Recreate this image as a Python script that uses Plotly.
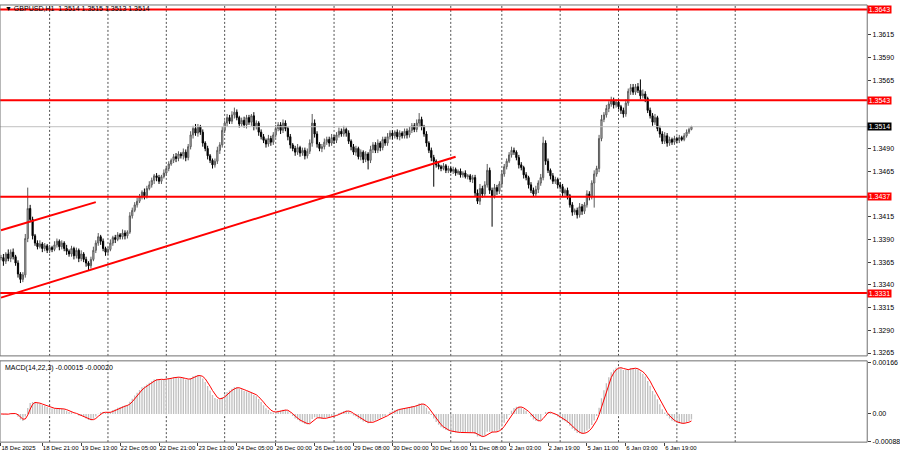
import numpy as np
import pandas as pd
import plotly.graph_objects as go

# broker-time trading sessions on screen: (day, first hour, last hour)
sessions = [
    ("2025-12-18", 4, 23), ("2025-12-19", 0, 23), ("2025-12-22", 0, 23),
    ("2025-12-23", 0, 23), ("2025-12-24", 0, 20), ("2025-12-26", 0, 23),
    ("2025-12-29", 0, 23), ("2025-12-30", 0, 23), ("2025-12-31", 0, 20),
    ("2026-01-02", 0, 23), ("2026-01-05", 0, 23), ("2026-01-06", 0, 23),
    ("2026-01-07", 0, 6),
]

first_open = 1.3370
closes = [
    1.3370, 1.3366, 1.3374, 1.3369, 1.3376, 1.3371, 1.3364, 1.3352, 1.3346, 1.3351,
    1.3391, 1.3424, 1.3412, 1.3394, 1.3386, 1.3382, 1.3385, 1.3380, 1.3383, 1.3378,
    1.3381, 1.3379, 1.3384, 1.3388, 1.3382, 1.3386, 1.3380, 1.3377, 1.3374, 1.3380,
    1.3372, 1.3378, 1.3369, 1.3374, 1.3368, 1.3364, 1.3361, 1.3368, 1.3378, 1.3386,
    1.3393, 1.3388, 1.3380, 1.3376, 1.3379, 1.3386, 1.3392, 1.3390, 1.3395, 1.3393,
    1.3397, 1.3394, 1.3398, 1.3416, 1.3422, 1.3428, 1.3432, 1.3437, 1.3442, 1.3438,
    1.3446, 1.3450, 1.3455, 1.3460, 1.3458, 1.3454, 1.3459, 1.3463, 1.3468, 1.3473,
    1.3477, 1.3481, 1.3479, 1.3484, 1.3482, 1.3486, 1.3480, 1.3492, 1.3505, 1.3512,
    1.3507, 1.3514, 1.3508, 1.3496, 1.3490, 1.3482, 1.3477, 1.3472, 1.3476, 1.3488,
    1.3494, 1.3510, 1.3518, 1.3524, 1.3520, 1.3527, 1.3530, 1.3524, 1.3517, 1.3521,
    1.3516, 1.3524, 1.3519, 1.3526, 1.3514, 1.3518, 1.3508, 1.3503, 1.3499, 1.3495,
    1.3501, 1.3497, 1.3505, 1.3512, 1.3516, 1.3510, 1.3518, 1.3512, 1.3503, 1.3494,
    1.3490, 1.3486, 1.3491, 1.3485, 1.3488, 1.3482, 1.3487, 1.3496, 1.3518, 1.3506,
    1.3495, 1.3490, 1.3492, 1.3497, 1.3500, 1.3496, 1.3502, 1.3499, 1.3505, 1.3509,
    1.3506, 1.3511, 1.3507, 1.3498, 1.3492, 1.3486, 1.3490, 1.3481, 1.3486, 1.3478,
    1.3484, 1.3477, 1.3489, 1.3494, 1.3488, 1.3496, 1.3491, 1.3500, 1.3496, 1.3503,
    1.3507, 1.3504, 1.3508, 1.3503, 1.3507, 1.3504, 1.3509, 1.3505, 1.3510, 1.3515,
    1.3511, 1.3518, 1.3522, 1.3514, 1.3506, 1.3496, 1.3488, 1.3480, 1.3476, 1.3472,
    1.3470, 1.3468, 1.3471, 1.3466, 1.3468, 1.3465, 1.3467, 1.3463, 1.3465, 1.3461,
    1.3463, 1.3459, 1.3460, 1.3456, 1.3458, 1.3441, 1.3432, 1.3446, 1.3440, 1.3450,
    1.3466, 1.3444, 1.3438, 1.3447, 1.3443, 1.3451, 1.3462, 1.3470, 1.3476, 1.3483,
    1.3488, 1.3486, 1.3480, 1.3472, 1.3469, 1.3461, 1.3458, 1.3450, 1.3444, 1.3440,
    1.3445, 1.3452, 1.3458, 1.3496, 1.3476, 1.3466, 1.3460, 1.3454, 1.3456, 1.3450,
    1.3448, 1.3441, 1.3444, 1.3438, 1.3428, 1.3420, 1.3422, 1.3417, 1.3426, 1.3421,
    1.3428, 1.3440, 1.3437, 1.3452, 1.3462, 1.3468, 1.3501, 1.3522, 1.3527, 1.3534,
    1.3539, 1.3543, 1.3538, 1.3541, 1.3536, 1.3532, 1.3528, 1.3540, 1.3553, 1.3557,
    1.3552, 1.3558, 1.3554, 1.3548, 1.3550, 1.3545, 1.3532, 1.3526, 1.3519, 1.3524,
    1.3512, 1.3506, 1.3498, 1.3504, 1.3496, 1.3500, 1.3497, 1.3501, 1.3499, 1.3502,
    1.3500, 1.3504, 1.3508, 1.3511, 1.3514,
]

# upper / lower shadow lengths in pips
wick_up = [
    3, 4, 2, 5, 3, 4, 2, 3, 2, 3, 5, 23, 4, 3, 2, 3, 4, 2, 3, 2,
    3, 2, 4, 3, 2, 3, 2, 4, 2, 3, 2, 3, 2, 4, 2, 3, 2, 3, 4, 3,
    4, 2, 3, 2, 3, 4, 2, 3, 3, 2, 4, 3, 2, 4, 3, 3, 4, 3, 2, 4,
    3, 4, 3, 2, 3, 3, 2, 4, 3, 3, 2, 3, 4, 3, 2, 4, 3, 3, 4, 3,
    5, 3, 2, 3, 2, 3, 2, 2, 3, 4, 3, 4, 3, 4, 3, 4, 5, 3, 2, 3,
    4, 3, 3, 2, 4, 3, 2, 3, 3, 2, 4, 3, 3, 4, 3, 3, 4, 3, 2, 3,
    2, 3, 4, 2, 3, 3, 3, 4, 10, 4, 3, 2, 3, 4, 3, 3, 4, 3, 3, 4,
    3, 4, 2, 3, 2, 3, 3, 2, 3, 2, 3, 2, 4, 3, 3, 4, 2, 3, 3, 4,
    3, 3, 2, 3, 3, 2, 3, 3, 4, 3, 3, 4, 7, 3, 2, 3, 2, 3, 3, 2,
    3, 2, 3, 2, 3, 2, 3, 2, 2, 3, 2, 3, 2, 2, 3, 3, 4, 5, 3, 4,
    7, 3, 3, 4, 3, 3, 4, 3, 3, 3, 4, 3, 2, 3, 3, 2, 3, 2, 3, 3,
    4, 3, 4, 7, 3, 3, 2, 3, 3, 2, 3, 3, 2, 3, 2, 3, 2, 3, 4, 3,
    3, 4, 3, 3, 4, 3, 4, 5, 3, 4, 3, 4, 3, 3, 3, 2, 3, 4, 3, 4,
    4, 3, 4, 12, 5, 3, 2, 3, 3, 4, 2, 3, 3, 4, 3, 3, 2, 3, 2, 3,
    2, 3, 3, 2, 1,
]
wick_dn = [
    3, 5, 3, 3, 4, 3, 3, 4, 4, 3, 3, 4, 3, 4, 3, 3, 2, 4, 3, 3,
    3, 3, 2, 3, 4, 3, 3, 4, 3, 3, 4, 3, 4, 3, 3, 4, 5, 3, 2, 3,
    3, 4, 3, 4, 3, 2, 3, 4, 2, 3, 3, 4, 3, 2, 3, 2, 3, 2, 3, 4,
    3, 2, 3, 4, 4, 3, 3, 2, 3, 3, 2, 3, 4, 3, 3, 4, 4, 3, 3, 4,
    3, 4, 3, 4, 3, 4, 3, 4, 3, 3, 4, 3, 3, 4, 3, 3, 4, 3, 4, 3,
    3, 4, 3, 4, 4, 3, 4, 3, 3, 4, 3, 4, 3, 3, 3, 4, 3, 3, 4, 4,
    3, 4, 3, 4, 3, 4, 3, 3, 4, 4, 4, 3, 4, 3, 3, 4, 3, 4, 3, 3,
    3, 3, 4, 3, 4, 3, 4, 3, 4, 4, 3, 10, 3, 4, 3, 3, 4, 3, 3, 3,
    3, 4, 3, 3, 4, 3, 3, 4, 3, 3, 3, 3, 4, 4, 3, 4, 3, 4, 28, 3,
    3, 3, 2, 3, 3, 2, 3, 3, 2, 3, 3, 2, 3, 3, 4, 4, 3, 4, 4, 3,
    3, 4, 34, 3, 4, 3, 3, 3, 3, 2, 3, 3, 3, 4, 3, 4, 3, 4, 3, 3,
    3, 4, 3, 3, 4, 3, 4, 3, 3, 4, 3, 4, 3, 4, 3, 4, 3, 4, 3, 4,
    3, 3, 4, 3, 27, 3, 4, 3, 3, 3, 4, 3, 4, 3, 3, 4, 4, 3, 3, 4,
    3, 3, 3, 4, 3, 4, 3, 3, 4, 3, 3, 4, 3, 3, 4, 3, 3, 3, 3, 3,
    2, 2, 2, 2, 1,
]

levels = [1.3643, 1.3543, 1.3437, 1.3331]
bid = 1.3514
# scale ticks that are not hidden behind the level / bid boxes
price_ticks = [1.3265, 1.3290, 1.3315, 1.3340, 1.3365, 1.3390, 1.3415,
               1.3465, 1.3490, 1.3565, 1.3590, 1.3615]
macd_ticks = [0.00166, 0.0, -0.00088]
macd_tick_text = ["0.00166", "0.00", "-0.00088"]

x_labels = ["18 Dec 2025", "18 Dec 21:00", "19 Dec 13:00", "22 Dec 05:00", "22 Dec 21:00",
            "23 Dec 13:00", "24 Dec 05:00", "26 Dec 00:00", "26 Dec 16:00", "29 Dec 08:00",
            "30 Dec 00:00", "30 Dec 16:00", "31 Dec 08:00", "2 Jan 03:00", "2 Jan 19:00",
            "5 Jan 11:00", "6 Jan 03:00", "6 Jan 19:00"]

# trend lines drawn on the chart: anchor times and prices
trend_t0 = ["2025-12-18 04:00", "2025-12-18 04:00"]
trend_p0 = [1.3400, 1.3326]
trend_t1 = ["2025-12-19 19:00", "2025-12-31 02:00"]
trend_p1 = [1.3431, 1.3481]

title_text = "▼ GBPUSD,H1  1.3514 1.3515 1.3513 1.3514"
macd_text = "MACD(14,22,3) -0.00015 -0.00020"

# ---------------------------------------------------------------- build series
times = []
for day, h0, h1 in sessions:
    for h in range(h0, h1 + 1):
        times.append(pd.Timestamp(day) + pd.Timedelta(hours=h))
if not (len(times) == len(closes) == len(wick_up) == len(wick_dn)):
    raise ValueError(f"{len(times)} {len(closes)} {len(wick_up)} {len(wick_dn)}")

n = len(closes)
idx = np.arange(n)
opens = [first_open] + closes[:-1]
highs = [max(o, c) + u / 1e4 for o, c, u in zip(opens, closes, wick_up)]
lows = [min(o, c) - d / 1e4 for o, c, d in zip(opens, closes, wick_dn)]

cs = pd.Series(closes)
macd = cs.ewm(span=14, adjust=False).mean() - cs.ewm(span=22, adjust=False).mean()
signal = macd.rolling(3, min_periods=1).mean()

pos = {t: i for i, t in enumerate(times)}
label_idx = [0]
for lab in x_labels[1:]:
    label_idx.append(next(i for i, t in enumerate(times) if f"{t.day} {t:%b %H:%M}" == lab))
day_starts = [i for i, t in enumerate(times) if t.hour == 0 and i > 0]
day_starts.append(day_starts[-1] + 24)  # next session's grid line in the empty area

# ---------------------------------------------------------------- geometry (px)
W, H = 900, 460
AX_R = 875
px_per_bar = 2.453
main_top, main_bot = 3, 357
macd_top, macd_bot = 362, 444
px_per_price = 9170.0
ref_price, ref_px = 1.3643, 7.5
px_per_macd = 31100.0
macd_zero_px = 415.6

x0 = -1 / px_per_bar
x1 = x0 + AX_R / px_per_bar
y_top = ref_price + (ref_px - main_top) / px_per_price
y_bot = ref_price - (main_bot - ref_px) / px_per_price
m_top = (macd_zero_px - macd_top) / px_per_macd
m_bot = -(macd_bot - macd_zero_px) / px_per_macd

FONT = "Liberation Sans"
fig = go.Figure()

fig.add_trace(go.Candlestick(
    x=idx, open=opens, high=highs, low=lows, close=closes,
    increasing=dict(line=dict(color="#5a5a5a", width=1), fillcolor="#d8d8d8"),
    decreasing=dict(line=dict(color="#000000", width=1), fillcolor="#000000"),
    whiskerwidth=0, hoverinfo="skip", xaxis="x", yaxis="y",
))
fig.add_trace(go.Bar(
    x=idx, y=macd, marker=dict(color="#c0c0c0", line=dict(width=0)),
    xaxis="x2", yaxis="y2", hoverinfo="skip",
))
fig.add_trace(go.Scatter(
    x=idx, y=signal, mode="lines", line=dict(color="#ff0000", width=1),
    xaxis="x2", yaxis="y2", hoverinfo="skip",
))

shapes = []
for d in day_starts:
    for yr in ("y domain", "y2 domain"):
        shapes.append(dict(type="line", xref="x", yref=yr, x0=d, x1=d, y0=0, y1=1,
                           line=dict(color="#505050", width=1, dash="2px,2px"), layer="below"))
shapes.append(dict(type="line", xref="x domain", yref="y", x0=0, x1=1, y0=bid, y1=bid,
                   line=dict(color="#c0c0c0", width=1)))
for lv in levels:
    shapes.append(dict(type="line", xref="x domain", yref="y", x0=0, x1=1, y0=lv, y1=lv,
                       line=dict(color="#ff0000", width=2)))
for t0, p0, t1, p1 in zip(trend_t0, trend_p0, trend_t1, trend_p1):
    shapes.append(dict(type="line", xref="x", yref="y",
                       x0=pos[pd.Timestamp(t0)], y0=p0, x1=pos[pd.Timestamp(t1)], y1=p1,
                       line=dict(color="#ff0000", width=2)))
for yr in ("y domain", "y2 domain"):
    shapes.append(dict(type="rect", xref="x domain", yref=yr, x0=0, x1=1, y0=0, y1=1,
                       line=dict(color="#707070", width=1)))
fig.update_layout(shapes=shapes)

ann = []
for lv in levels:
    ann.append(dict(xref="paper", yref="y", x=AX_R / W, y=lv, xanchor="left", yanchor="middle",
                    text=f"{lv:.4f}", showarrow=False, bgcolor="#ff0000", width=23,
                    font=dict(family=FONT, size=7, color="#ffffff"), borderpad=0))
ann.append(dict(xref="paper", yref="y", x=AX_R / W, y=bid, xanchor="left", yanchor="middle",
                text=f"{bid:.4f}", showarrow=False, bgcolor="#000000", width=23,
                font=dict(family=FONT, size=7, color="#ffffff"), borderpad=0))
ann.append(dict(xref="paper", yref="paper", x=3 / W, y=1 - 7 / H, xanchor="left", yanchor="middle",
                text=title_text, showarrow=False, font=dict(family=FONT, size=7, color="#000000")))
ann.append(dict(xref="paper", yref="paper", x=3 / W, y=1 - 369 / H, xanchor="left", yanchor="middle",
                text=macd_text, showarrow=False, font=dict(family=FONT, size=7, color="#000000")))
fig.update_layout(annotations=ann)

axis_common = dict(showgrid=False, zeroline=False, ticks="outside", ticklen=3,
                   tickcolor="#404040", tickfont=dict(family=FONT, size=7, color="#000000"))
fig.update_layout(
    width=W, height=H,
    margin=dict(l=0, r=0, t=0, b=0),
    paper_bgcolor="#ffffff", plot_bgcolor="#ffffff",
    showlegend=False, bargap=0.45, hovermode=False,
    xaxis=dict(domain=[0, AX_R / W], range=[x0, x1], anchor="y", showticklabels=False,
               showgrid=False, zeroline=False, rangeslider=dict(visible=False), ticks=""),
    xaxis2=dict(domain=[0, AX_R / W], range=[x0, x1], anchor="y2", matches="x",
                tickvals=label_idx, ticktext=x_labels, ticklabelposition="outside right",
                tickangle=0,
                **{**axis_common, "tickfont": dict(family=FONT, size=6, color="#000000")}),
    yaxis=dict(domain=[1 - main_bot / H, 1 - main_top / H], range=[y_bot, y_top], side="right",
               anchor="x", tickvals=price_ticks, ticktext=[f"{p:.4f}" for p in price_ticks],
               **axis_common),
    yaxis2=dict(domain=[1 - macd_bot / H, 1 - macd_top / H], range=[m_bot, m_top], side="right",
                anchor="x2", tickvals=macd_ticks, ticktext=macd_tick_text, **axis_common),
)

fig.write_html(
    "out.html",
    config={"displayModeBar": False, "staticPlot": True},
    post_script="document.body.style.margin='0';document.body.style.overflow='hidden';",
)
